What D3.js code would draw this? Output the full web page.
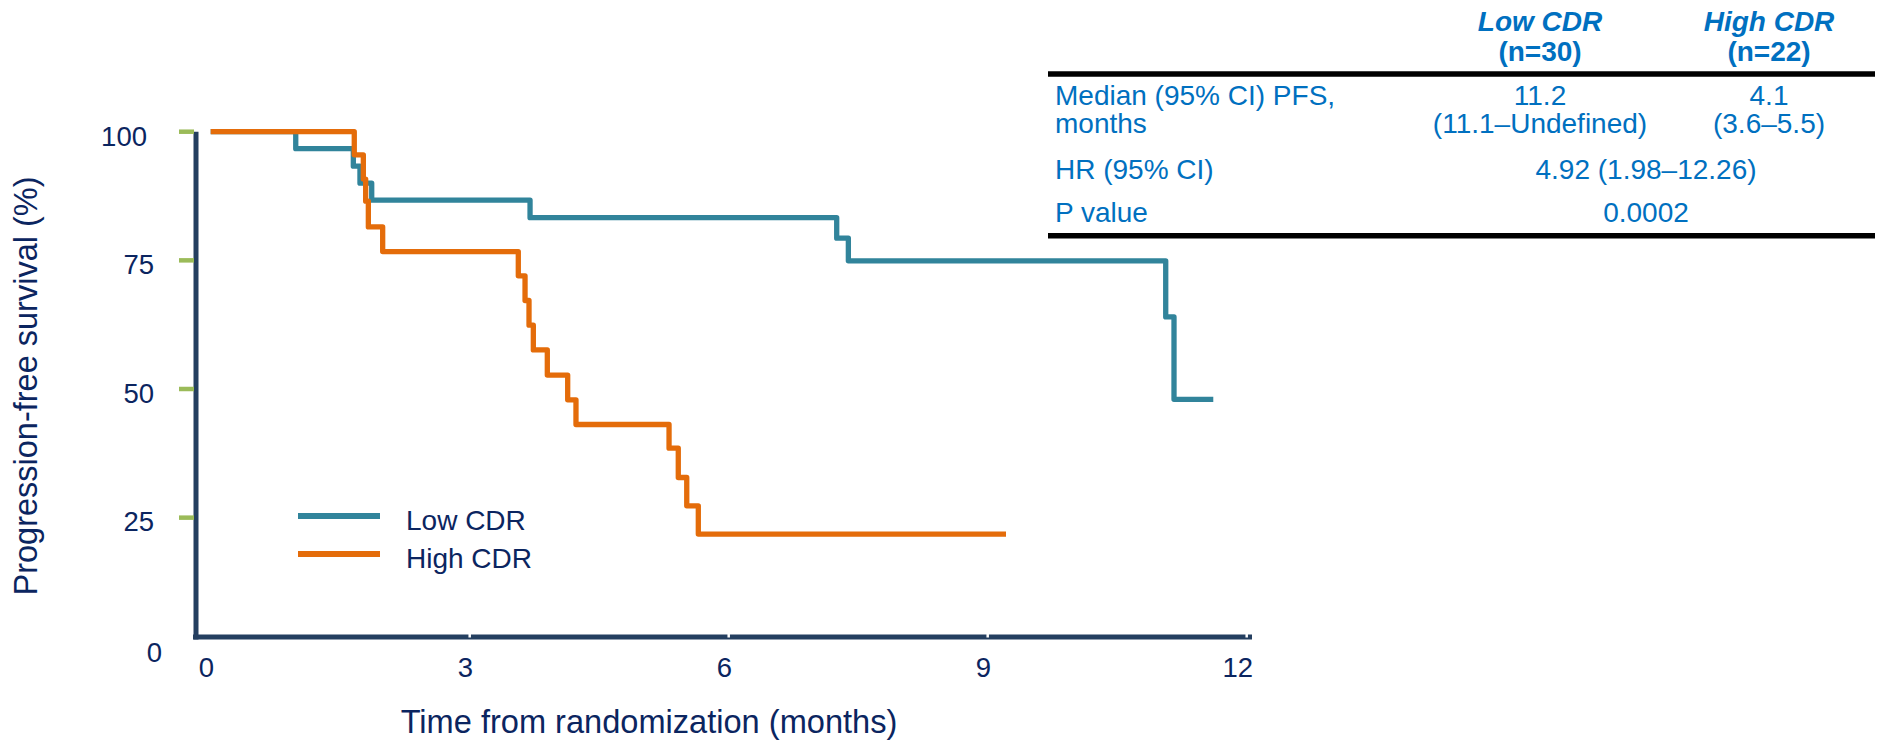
<!DOCTYPE html>
<html>
<head>
<meta charset="utf-8">
<script src="https://cdn.jsdelivr.net/npm/d3@7"></script>
<style>
  html, body { margin: 0; padding: 0; background: #ffffff; }
  svg { display: block; font-family: "Liberation Sans", Arial, sans-serif; }
</style>
</head>
<body>
<svg id="chart" width="1880" height="744"></svg>
<script>
// ---------- data ----------
const seriesNames = ["Low CDR", "High CDR"];
const lowTime  = [0, 0.985, 1.652, 1.729, 1.865, 3.699, 7.251, 7.386, 11.062, 11.158, 11.613];
const lowSurv  = [100, 96.7, 93.3, 90.0, 86.7, 83.3, 79.3, 74.9, 64.0, 48.0, 48.0];
const highTime = [0, 1.663, 1.768, 1.795, 1.826, 1.992, 3.563, 3.641, 3.687, 3.737, 3.899, 4.135, 4.231, 5.309, 5.416, 5.514, 5.648, 9.212];
const highSurv = [100, 95.5, 90.8, 86.5, 81.5, 76.7, 72.0, 67.2, 62.4, 57.6, 52.7, 47.9, 43.1, 38.5, 32.8, 27.3, 21.8, 21.8];
const xTicks = [0, 3, 6, 9, 12];
const yTicks = [0, 25, 50, 75, 100];
const xLabel = "Time from randomization (months)";
const yLabel = "Progression-free survival (%)";
const tableHeaderLine1 = ["Low CDR", "High CDR"];
const tableHeaderLine2 = ["(n=30)", "(n=22)"];
const medianLabel = ["Median (95% CI) PFS,", "months"];
const medianValues = [["11.2", "(11.1–Undefined)"], ["4.1", "(3.6–5.5)"]];
const hrLabel = "HR (95% CI)";
const hrValue = "4.92 (1.98–12.26)";
const pLabel = "P value";
const pValue = "0.0002";

// ---------- styles ----------
const navy = "#0b2560";
const axisCol = "#243f60";
const tickGreen = "#9bbb59";
const teal = "#31849b";
const orange = "#e46c0a";
const blue = "#0070c0";
const colors = [teal, orange];
const fs = 28;

const svg = d3.select("#chart");
const x = d3.scaleLinear().domain([0, 12]).range([210.7, 1246.7]);
const y = d3.scaleLinear().domain([0, 100]).range([646.3, 131.7]);
const axisY = 637;
const axisX = 196;

// axes lines
svg.append("line").attr("x1", axisX).attr("x2", axisX).attr("y1", y(100)).attr("y2", axisY + 2.5)
  .attr("stroke", axisCol).attr("stroke-width", 5);
svg.append("line").attr("x1", 193).attr("x2", 1252).attr("y1", axisY).attr("y2", axisY)
  .attr("stroke", axisCol).attr("stroke-width", 5);

// y ticks (green)
svg.selectAll(".ytick").data(yTicks.filter(d => d > 0)).enter().append("line")
  .attr("x1", 179).attr("x2", axisX - 2).attr("y1", d => y(d)).attr("y2", d => y(d))
  .attr("stroke", tickGreen).attr("stroke-width", 4.5);

// y tick labels
const yLabelShift = d => d === 100 ? -7 : (d === 0 ? 8 : 0);
svg.selectAll(".ylab").data(yTicks).enter().append("text")
  .attr("x", d => 154 + yLabelShift(d))
  .attr("y", d => y(d) + (d === 0 ? 15.7 : 13.8))
  .attr("text-anchor", "end").attr("font-size", 27.5).attr("fill", navy)
  .text(d => d);

// x ticks (white notches)
svg.selectAll(".xtick").data(xTicks.filter(d => d > 0)).enter().append("line")
  .attr("x1", d => x(d)).attr("x2", d => x(d)).attr("y1", axisY - 3).attr("y2", axisY + 0.5)
  .attr("stroke", "#ffffff").attr("stroke-width", 2.5);

// x tick labels
svg.selectAll(".xlab").data(xTicks).enter().append("text")
  .attr("x", d => x(d) - (d === 12 ? 9 : 4.3))
  .attr("y", 676.7)
  .attr("text-anchor", "middle").attr("font-size", 27.5).attr("fill", navy)
  .text(d => d);

// axis titles
svg.append("text").attr("x", 649).attr("y", 733).attr("text-anchor", "middle")
  .attr("font-size", 32.6).attr("fill", navy).text(xLabel);
svg.append("text").attr("transform", "translate(37,386) rotate(-90)").attr("text-anchor", "middle")
  .attr("font-size", 32.5).attr("fill", navy).text(yLabel);

// curves
const line = d3.line().x(d => x(d[0])).y(d => y(d[1])).curve(d3.curveStepAfter);
const series = [d3.zip(lowTime, lowSurv), d3.zip(highTime, highSurv)];
series.forEach((s, i) => {
  svg.append("path").attr("d", line(s)).attr("fill", "none")
    .attr("stroke", colors[i]).attr("stroke-width", 5.3).attr("stroke-linejoin", "round");
});

// legend
const legY = [516, 554];
seriesNames.forEach((n, i) => {
  svg.append("line").attr("x1", 298).attr("x2", 380).attr("y1", legY[i]).attr("y2", legY[i])
    .attr("stroke", colors[i]).attr("stroke-width", 6);
  svg.append("text").attr("x", 406).attr("y", legY[i] + 13.8).attr("font-size", fs)
    .attr("fill", navy).text(n);
});

// table
const colX = [1540, 1769];
const tbl = svg.append("g");
tbl.append("line").attr("x1", 1048).attr("x2", 1875).attr("y1", 74).attr("y2", 74)
  .attr("stroke", "#000").attr("stroke-width", 5.5);
tbl.append("line").attr("x1", 1048).attr("x2", 1875).attr("y1", 235.7).attr("y2", 235.7)
  .attr("stroke", "#000").attr("stroke-width", 5.5);
colX.forEach((cx, i) => {
  tbl.append("text").attr("x", cx).attr("y", 30.7).attr("text-anchor", "middle")
    .attr("font-size", fs).attr("font-weight", "bold").attr("font-style", "italic")
    .attr("fill", blue).text(tableHeaderLine1[i]);
  tbl.append("text").attr("x", cx).attr("y", 60.5).attr("text-anchor", "middle")
    .attr("font-size", fs).attr("font-weight", "bold")
    .attr("fill", blue).text(tableHeaderLine2[i]);
  medianValues[i].forEach((v, j) => {
    tbl.append("text").attr("x", cx).attr("y", 104.5 + j * 28.3).attr("text-anchor", "middle")
      .attr("font-size", fs).attr("fill", blue).text(v);
  });
});
medianLabel.forEach((t, j) => {
  tbl.append("text").attr("x", 1055).attr("y", 104.5 + j * 28.3).attr("font-size", fs)
    .attr("fill", blue).text(t);
});
tbl.append("text").attr("x", 1055).attr("y", 179).attr("font-size", fs).attr("fill", blue).text(hrLabel);
tbl.append("text").attr("x", 1646).attr("y", 179).attr("text-anchor", "middle").attr("font-size", fs).attr("fill", blue).text(hrValue);
tbl.append("text").attr("x", 1055).attr("y", 221.7).attr("font-size", fs).attr("fill", blue).text(pLabel);
tbl.append("text").attr("x", 1646).attr("y", 221.7).attr("text-anchor", "middle").attr("font-size", fs).attr("fill", blue).text(pValue);
</script>
</body>
</html>
